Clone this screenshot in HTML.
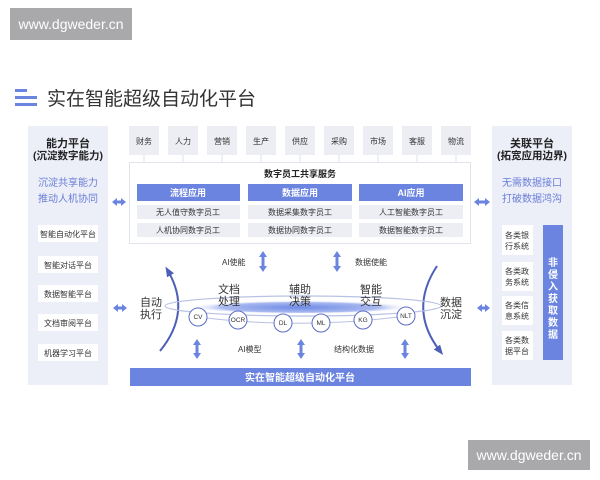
<!DOCTYPE html>
<html><head><meta charset="utf-8"><style>
body{margin:0;background:#fff;}
svg{display:block;font-family:"Liberation Sans","Noto Sans CJK SC",sans-serif;}
</style></head><body>
<svg width="600" height="480" viewBox="0 0 600 480" xmlns="http://www.w3.org/2000/svg">
<defs>
<radialGradient id="g" cx="50%" cy="60%" r="50%"><stop offset="0" stop-color="#6f8be6"/><stop offset="0.7" stop-color="#a9b9f0"/><stop offset="1" stop-color="#fff" stop-opacity="0"/></radialGradient>
<marker id="ah" markerUnits="userSpaceOnUse" markerWidth="10" markerHeight="10" refX="5" refY="5" orient="auto"><path d="M0,1 L10,5 L0,9 Z" fill="#4d5fb8"/></marker>
</defs>
<rect x="10" y="8" width="122" height="32" fill="#a9a9ab"/>
<text x="71" y="29" font-size="14" fill="#fff" text-anchor="middle">www.dgweder.cn</text>
<rect x="468" y="440" width="122" height="30" fill="#a9a9ab"/>
<text x="529" y="460" font-size="14" fill="#fff" text-anchor="middle">www.dgweder.cn</text>
<rect x="15" y="89" width="12" height="3" fill="#6b84e0"/><rect x="15" y="96" width="22" height="3" fill="#6b84e0"/><rect x="15" y="103" width="22" height="3" fill="#6b84e0"/>
<text x="47" y="105" font-size="19" fill="#333">实在智能超级自动化平台</text>
<!-- left panel -->
<rect x="28" y="126" width="80" height="259" fill="#eceef8"/>
<text x="68" y="147" font-size="11" font-weight="bold" fill="#222" text-anchor="middle">能力平台</text>
<text x="68" y="159" font-size="10.5" font-weight="bold" fill="#222" text-anchor="middle">(沉淀数字能力)</text>
<text x="68" y="186" font-size="10" fill="#6b7fd7" text-anchor="middle">沉淀共享能力</text>
<text x="68" y="202" font-size="10" fill="#6b7fd7" text-anchor="middle">推动人机协同</text>
<g font-size="8" fill="#333" text-anchor="middle">
<rect x="38" y="225" width="60" height="17" fill="#fff"/><text x="68" y="237">智能自动化平台</text>
<rect x="38" y="256" width="60" height="17" fill="#fff"/><text x="68" y="268">智能对话平台</text>
<rect x="38" y="285" width="60" height="17" fill="#fff"/><text x="68" y="297">数据智能平台</text>
<rect x="38" y="314" width="60" height="17" fill="#fff"/><text x="68" y="326">文档审阅平台</text>
<rect x="38" y="344" width="60" height="17" fill="#fff"/><text x="68" y="356">机器学习平台</text>
</g>
<!-- right panel -->
<rect x="492" y="126" width="80" height="259" fill="#eceef8"/>
<text x="532" y="147" font-size="11" font-weight="bold" fill="#222" text-anchor="middle">关联平台</text>
<text x="532" y="159" font-size="10.5" font-weight="bold" fill="#222" text-anchor="middle">(拓宽应用边界)</text>
<text x="532" y="186" font-size="10" fill="#6b7fd7" text-anchor="middle">无需数据接口</text>
<text x="532" y="202" font-size="10" fill="#6b7fd7" text-anchor="middle">打破数据鸿沟</text>
<g font-size="8" fill="#333" text-anchor="middle">
<rect x="502" y="225" width="31" height="30" fill="#fff"/><text x="517" y="238">各类银</text><text x="517" y="249">行系统</text>
<rect x="502" y="262" width="31" height="29" fill="#fff"/><text x="517" y="274">各类政</text><text x="517" y="285">务系统</text>
<rect x="502" y="296" width="31" height="29" fill="#fff"/><text x="517" y="308">各类信</text><text x="517" y="319">息系统</text>
<rect x="502" y="331" width="31" height="29" fill="#fff"/><text x="517" y="343">各类数</text><text x="517" y="354">据平台</text>
</g>
<rect x="543" y="225" width="20" height="135" fill="#6b84e0"/>
<g font-size="10" font-weight="bold" fill="#fff" text-anchor="middle">
<text x="553" y="266">非</text><text x="553" y="278">侵</text><text x="553" y="290">入</text><text x="553" y="302">获</text><text x="553" y="314">取</text><text x="553" y="326">数</text><text x="553" y="338">据</text></g>
<!-- tabs -->
<g stroke="#dfe2ec" stroke-width="1">
<line x1="144" y1="155" x2="144" y2="162"/><line x1="183" y1="155" x2="183" y2="162"/><line x1="222" y1="155" x2="222" y2="162"/><line x1="261" y1="155" x2="261" y2="162"/><line x1="300" y1="155" x2="300" y2="162"/><line x1="339" y1="155" x2="339" y2="162"/><line x1="378" y1="155" x2="378" y2="162"/><line x1="417" y1="155" x2="417" y2="162"/><line x1="456" y1="155" x2="456" y2="162"/>
</g>
<g font-size="8" fill="#333" text-anchor="middle">
<rect x="129" y="126" width="30" height="29" fill="#eceef4"/><text x="144" y="144">财务</text>
<rect x="168" y="126" width="30" height="29" fill="#eceef4"/><text x="183" y="144">人力</text>
<rect x="207" y="126" width="30" height="29" fill="#eceef4"/><text x="222" y="144">营销</text>
<rect x="246" y="126" width="30" height="29" fill="#eceef4"/><text x="261" y="144">生产</text>
<rect x="285" y="126" width="30" height="29" fill="#eceef4"/><text x="300" y="144">供应</text>
<rect x="324" y="126" width="30" height="29" fill="#eceef4"/><text x="339" y="144">采购</text>
<rect x="363" y="126" width="30" height="29" fill="#eceef4"/><text x="378" y="144">市场</text>
<rect x="402" y="126" width="30" height="29" fill="#eceef4"/><text x="417" y="144">客服</text>
<rect x="441" y="126" width="30" height="29" fill="#eceef4"/><text x="456" y="144">物流</text>
</g>
<!-- central box -->
<rect x="129.5" y="162.5" width="341" height="81" fill="#fff" stroke="#e2e4ec"/>
<text x="300" y="177" font-size="9" font-weight="bold" fill="#222" text-anchor="middle">数字员工共享服务</text>
<g font-size="8" text-anchor="middle">
<rect x="137" y="184" width="103" height="17" fill="#6b84e0"/><text x="188" y="196" fill="#fff" font-weight="bold" font-size="9">流程应用</text>
<rect x="137" y="205" width="103" height="14" fill="#eceef4"/><text x="188" y="215" fill="#333">无人值守数字员工</text>
<rect x="137" y="223" width="103" height="14" fill="#eceef4"/><text x="188" y="233" fill="#333">人机协同数字员工</text>
<rect x="248" y="184" width="104" height="17" fill="#6b84e0"/><text x="300" y="196" fill="#fff" font-weight="bold" font-size="9">数据应用</text>
<rect x="248" y="205" width="104" height="14" fill="#eceef4"/><text x="300" y="215" fill="#333">数据采集数字员工</text>
<rect x="248" y="223" width="104" height="14" fill="#eceef4"/><text x="300" y="233" fill="#333">数据协同数字员工</text>
<rect x="359" y="184" width="104" height="17" fill="#6b84e0"/><text x="411" y="196" fill="#fff" font-weight="bold" font-size="9">AI应用</text>
<rect x="359" y="205" width="104" height="14" fill="#eceef4"/><text x="411" y="215" fill="#333">人工智能数字员工</text>
<rect x="359" y="223" width="104" height="14" fill="#eceef4"/><text x="411" y="233" fill="#333">数据智能数字员工</text>
</g>
<!-- double arrows -->
<g stroke="#6b84e0" stroke-width="3" fill="#6b84e0">
<line x1="116" y1="202" x2="122" y2="202"/><path d="M112,202 l5,-4 v8z M126,202 l-5,-4 v8z" stroke="none"/>
<line x1="478" y1="202" x2="486" y2="202"/><path d="M474,202 l5,-4 v8z M490,202 l-5,-4 v8z" stroke="none"/>
<line x1="117" y1="308" x2="123" y2="308"/><path d="M113,308 l5,-4 v8z M127,308 l-5,-4 v8z" stroke="none"/>
<line x1="481" y1="308" x2="486" y2="308"/><path d="M477,308 l5,-4 v8z M490,308 l-5,-4 v8z" stroke="none"/>
<line x1="263" y1="256" x2="263" y2="266"/><path d="M263,251 l-4,6 h8z M263,272 l-4,-6 h8z" stroke="none"/>
<line x1="337" y1="256" x2="337" y2="266"/><path d="M337,251 l-4,6 h8z M337,272 l-4,-6 h8z" stroke="none"/>
<line x1="197" y1="344" x2="197" y2="354"/><path d="M197,339 l-4,6 h8z M197,359 l-4,-6 h8z" stroke="none"/>
<line x1="301" y1="344" x2="301" y2="354"/><path d="M301,339 l-4,6 h8z M301,359 l-4,-6 h8z" stroke="none"/>
<line x1="405" y1="344" x2="405" y2="354"/><path d="M405,339 l-4,6 h8z M405,359 l-4,-6 h8z" stroke="none"/>
</g>
<g font-size="8" fill="#333">
<text x="222" y="265">AI使能</text><text x="355" y="265">数据使能</text>
<text x="238" y="352">AI模型</text><text x="334" y="352">结构化数据</text>
</g>
<!-- curves -->
<path d="M160,351 Q192,312 168,271" fill="none" stroke="#4d5fb8" stroke-width="2" marker-end="url(#ah)"/>
<path d="M437,266 Q408,310 440,351" fill="none" stroke="#4d5fb8" stroke-width="2" marker-end="url(#ah)"/>
<!-- ring -->
<ellipse cx="300" cy="306" rx="112" ry="7" fill="url(#g)"/>
<ellipse cx="303" cy="306" rx="138" ry="10" fill="none" stroke="#b8c2e4" stroke-width="1.2"/>
<path d="M198,317 Q300,330 406,316" fill="none" stroke="#b8c2e4" stroke-width="1"/>
<g font-size="11" fill="#333" text-anchor="middle">
<text x="229" y="293">文档</text><text x="229" y="305">处理</text>
<text x="300" y="293">辅助</text><text x="300" y="305">决策</text>
<text x="371" y="293">智能</text><text x="371" y="305">交互</text>
<text x="151" y="306">自动</text><text x="151" y="318">执行</text>
<text x="451" y="306">数据</text><text x="451" y="318">沉淀</text>
</g>
<g stroke="#5b6cc4" fill="#fff">
<circle cx="198" cy="317" r="9"/><circle cx="238" cy="320" r="9"/><circle cx="283" cy="323" r="9"/>
<circle cx="321" cy="323" r="9"/><circle cx="363" cy="320" r="9"/><circle cx="406" cy="316" r="9"/>
</g>
<g font-size="6.5" fill="#333" text-anchor="middle">
<text x="198" y="319">CV</text><text x="238" y="322">OCR</text><text x="283" y="325">DL</text><text x="321" y="325">ML</text><text x="363" y="322">KG</text><text x="406" y="318">NLT</text>
</g>
<rect x="130" y="368" width="341" height="18" fill="#6b84e0"/>
<text x="300" y="381" font-size="10" font-weight="bold" fill="#fff" text-anchor="middle">实在智能超级自动化平台</text>
</svg>
</body></html>
